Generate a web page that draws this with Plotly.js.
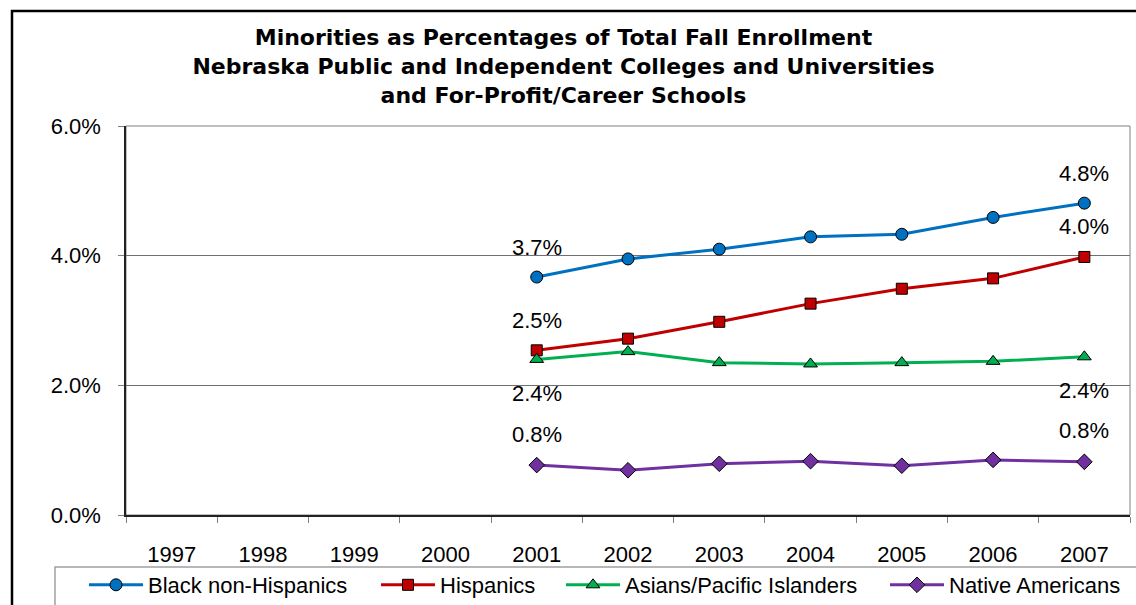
<!DOCTYPE html>
<html>
<head>
<meta charset="utf-8">
<script src="https://cdn.plot.ly/plotly-3.0.1.min.js"></script>
<style>
html,body{margin:0;padding:0;background:#fff;}
#chart{width:1136px;height:605px;}
</style>
</head>
<body>
<div id="chart"></div>
<script>
// ---- data ----
var years = ['1997','1998','1999','2000','2001','2002','2003','2004','2005','2006','2007'];
var dataYears = ['2001','2002','2003','2004','2005','2006','2007'];
var blackNonHispanics = [3.67, 3.95, 4.10, 4.29, 4.33, 4.59, 4.81];
var hispanics = [2.54, 2.72, 2.98, 3.26, 3.49, 3.65, 3.98];
var asiansPacific = [2.40, 2.52, 2.35, 2.33, 2.35, 2.37, 2.44];
var nativeAmericans = [0.77, 0.69, 0.79, 0.83, 0.76, 0.85, 0.82];
var seriesNames = ['Black non-Hispanics', 'Hispanics', 'Asians/Pacific Islanders', 'Native Americans'];
var yTicks = [0, 2, 4, 6];

var PCT = String.fromCharCode(37);
var FONT = 'Liberation Sans, Arial, sans-serif';
var colors = ['#0070C0', '#C00000', '#00B050', '#7030A0'];
var symbols = ['circle', 'square', 'triangle-up', 'diamond'];
var sizes = [12, 11, 12, 12];
var labelShift = [30, 30, -34, 31];
var legendIds = ['legend', 'legend2', 'legend3', 'legend4'];
var legendLeft = [84, 376, 561, 885];
var seriesVals = [blackNonHispanics, hispanics, asiansPacific, nativeAmericans];

var traces = seriesVals.map(function (vals, i) {
  return {
    type: 'scatter', mode: 'lines+markers', name: seriesNames[i],
    legend: legendIds[i],
    x: dataYears, y: vals,
    line: {color: colors[i], width: 3},
    marker: {symbol: symbols[i], size: sizes[i], color: colors[i], line: {color: '#000', width: 1}},
    hoverinfo: 'x+y'
  };
});

var annotations = [];
seriesVals.forEach(function (vals, i) {
  [0, vals.length - 1].forEach(function (j) {
    annotations.push({
      x: years.indexOf(dataYears[j]), y: vals[j], xref: 'x', yref: 'y',
      text: vals[j].toFixed(1) + PCT, showarrow: false,
      yshift: labelShift[i], font: {family: FONT, size: 22, color: '#000'}
    });
  });
});

var W = 1136, H = 605;
var L = 126, R = 1130, T = 126, B = 515;
var pw = R - L, ph = B - T;
function px(x) { return (x - L) / pw; }
function py(y) { return (B - y) / ph; }

var layout = {
  width: W, height: H,
  margin: {l: L, r: W - R, t: T, b: H - B, pad: 0},
  paper_bgcolor: '#fff', plot_bgcolor: '#fff',
  font: {family: FONT, size: 22, color: '#000'},
  title: {
    text: '<b>Minorities as Percentages of Total Fall Enrollment<br>Nebraska Public and Independent Colleges and Universities<br>and For-Profit/Career Schools</b>',
    font: {family: 'DejaVu Sans, Liberation Sans, Arial, sans-serif', size: 22, color: '#000'},
    x: 0.496, xref: 'container', xanchor: 'center',
    y: 0.925, yref: 'container', yanchor: 'top'
  },
  xaxis: {
    type: 'category', categoryorder: 'array', categoryarray: years,
    tickvals: years, ticktext: years,
    range: [-0.5, years.length - 0.5],
    showgrid: false, zeroline: false,
    showline: true, linecolor: '#222', linewidth: 1.5,
    ticks: 'outside', ticklen: 6, tickcolor: '#808080', tickwidth: 1,
    tickson: 'boundaries',
    ticklabelstandoff: 19,
    automargin: false,
    tickfont: {family: FONT, size: 22, color: '#000'}
  },
  yaxis: {
    range: [0, 6], tickvals: yTicks,
    ticktext: yTicks.map(function (v) { return v.toFixed(1) + PCT; }),
    showgrid: true, gridcolor: '#707070', gridwidth: 1,
    zeroline: false,
    showline: true, linecolor: '#222', linewidth: 1.5,
    ticks: 'outside', ticklen: 6, tickcolor: '#808080', tickwidth: 1,
    ticklabelstandoff: 13,
    automargin: false,
    tickfont: {family: FONT, size: 22, color: '#000'}
  },
  showlegend: true,
  annotations: annotations,
  shapes: [
    {type: 'rect', xref: 'paper', yref: 'paper', x0: 0, x1: 1, y0: 0, y1: 1,
     line: {color: '#808080', width: 1}, layer: 'below'},
    {type: 'rect', xref: 'paper', yref: 'paper', x0: px(55), x1: px(1160), y0: py(567), y1: py(640),
     line: {color: '#A0A0A0', width: 1.5}, fillcolor: 'rgba(0,0,0,0)'},
    {type: 'rect', xref: 'paper', yref: 'paper', x0: px(12), x1: px(1160), y0: py(640), y1: py(11),
     line: {color: '#000', width: 2.5}, fillcolor: 'rgba(0,0,0,0)'}
  ]
};

legendIds.forEach(function (id, i) {
  layout[id] = {
    orientation: 'h',
    xref: 'container', x: legendLeft[i] / W, xanchor: 'left',
    yref: 'container', y: (H - 585) / H, yanchor: 'middle',
    bgcolor: 'rgba(0,0,0,0)', borderwidth: 0,
    font: {family: FONT, size: 22, color: '#000'},
    itemwidth: 54
  };
});

Plotly.newPlot('chart', traces, layout, {displayModeBar: false, responsive: false});
</script>
</body>
</html>
